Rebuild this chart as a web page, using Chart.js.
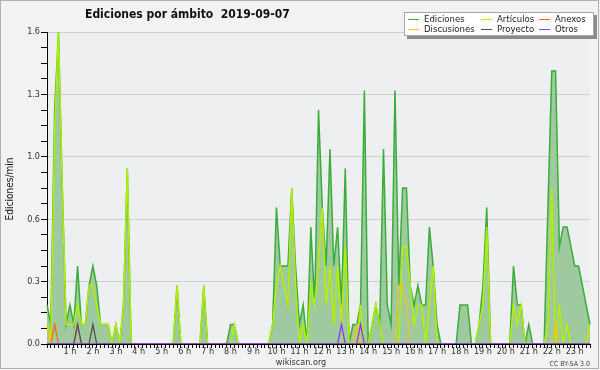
<!DOCTYPE html>
<html><head><meta charset="utf-8">
<script src="https://cdn.jsdelivr.net/npm/chart.js@4.4.0/dist/chart.umd.min.js"></script>
<style>html,body{margin:0;padding:0;background:#f2f2f2;}#wrap{width:600px;height:370px;position:relative}</style>
</head><body><div id="wrap"><canvas id="c" width="600" height="370"></canvas></div>
<script>
const chartTitle = 'Ediciones por ámbito  2019-09-07';
const yTitle = 'Ediciones/min';
const hourLabels = ['1 h','2 h','3 h','4 h','5 h','6 h','7 h','8 h','9 h','10 h','11 h','12 h','13 h','14 h','15 h','16 h','17 h','18 h','19 h','20 h','21 h','22 h','23 h'];
const yTickValues = [0, 0.32, 0.64, 0.96, 1.28, 1.6];
const yTickLabels = ['0.0','0.3','0.6','1.0','1.3','1.6'];
const seriesNames = ['Ediciones','Artículos','Anexos','Discusiones','Proyecto','Otros'];

// 10-minute buckets, 00:00 .. 23:40
const ediciones = [
 0.2,0.1,1.2,1.6,0.8,0.1,0.2,0.1,0.4,0.1,0.1,0.3,
 0.4,0.3,0.1,0.1,0.1,0,0.1,0,0.2,0.9,0,0,
 0,0,0,0,0,0,0,0,0,0,0.3,0,
 0,0,0,0,0,0.3,0,0,0,0,0,0,
 0.1,0.1,0,0,0,0,0,0,0,0,0,0.1,
 0.7,0.4,0.4,0.4,0.8,0.4,0.1,0.2,0,0.6,0.2,1.2,
 0.7,0.4,1.0,0.4,0.6,0.2,0.9,0,0.1,0.1,0.2,1.3,
 0,0.1,0.2,0.1,1.0,0.2,0.1,1.3,0.3,0.8,0.8,0.3,
 0.2,0.3,0.2,0.2,0.6,0.4,0.1,0,0,0,0,0,
 0.2,0.2,0.2,0,0,0.1,0.3,0.7,0,0,0,0,
 0,0,0.4,0.2,0.2,0,0.1,0,0,0,0,0.7,
 1.4,1.4,0.5,0.6,0.6,0.5,0.4,0.4,0.3,0.2,0.1];
const articulos = [
 0.1,0,1.1,1.6,0.8,0.1,0.1,0.1,0.2,0.1,0.1,0.3,
 0.3,0.2,0.1,0.1,0.1,0,0.1,0,0.2,0.9,0,0,
 0,0,0,0,0,0,0,0,0,0,0.3,0,
 0,0,0,0,0,0.3,0,0,0,0,0,0,
 0,0.1,0,0,0,0,0,0,0,0,0,0.1,
 0.3,0.4,0.3,0.2,0.8,0.3,0,0.1,0,0.3,0.2,0.4,
 0.7,0.2,0.4,0.1,0.4,0.1,0.5,0,0,0,0.2,0,
 0,0.1,0.2,0.1,0,0,0,0,0,0.5,0.5,0.3,
 0.1,0.2,0.2,0,0.2,0.4,0,0,0,0,0,0,
 0,0,0,0,0,0.1,0.2,0.6,0,0,0,0,
 0,0,0.2,0.1,0.2,0,0,0,0,0,0,0.1,
 0.8,0,0.2,0,0.1,0,0,0,0,0,0.1];
const anexos = [
 0,0,0.1,0,0,0,0,0,0.1,0,0,0,
 0,0,0,0,0,0,0,0,0,0,0,0,
 0,0,0,0,0,0,0,0,0,0,0,0,
 0,0,0,0,0,0,0,0,0,0,0,0,
 0,0,0,0,0,0,0,0,0,0,0,0,
 0,0,0,0,0,0,0,0,0,0,0,0,
 0,0,0,0,0,0,0,0,0,0,0,0,
 0,0,0,0,0,0,0,0,0,0,0,0,
 0,0,0,0,0,0,0,0,0,0,0,0,
 0,0,0,0,0,0,0,0,0,0,0,0,
 0,0,0,0,0,0,0,0,0,0,0,0,
 0,0,0,0,0,0,0,0,0,0,0];
const discusiones = [
 0.1,0,0,0,0,0,0,0,0,0,0,0,
 0,0,0,0,0,0,0,0,0,0,0,0,
 0,0,0,0,0,0,0,0,0,0,0,0,
 0,0,0,0,0,0,0,0,0,0,0,0,
 0,0,0,0,0,0,0,0,0,0,0,0,
 0,0,0,0,0,0,0,0,0,0,0,0,
 0,0,0,0,0,0,0,0,0,0.1,0,0,
 0,0,0,0,0,0,0,0,0.3,0.3,0.2,0,
 0,0,0,0,0,0,0,0,0,0,0,0,
 0,0,0,0,0,0,0,0,0,0,0,0,
 0,0,0,0,0,0,0,0,0,0,0,0,
 0,0.1,0,0,0,0,0,0,0,0,0];
const proyecto = [
 0,0,0,0,0,0,0,0,0.1,0,0,0,
 0.1,0,0,0,0,0,0,0,0,0,0,0,
 0,0,0,0,0,0,0,0,0,0,0,0,
 0,0,0,0,0,0,0,0,0,0,0,0,
 0,0,0,0,0,0,0,0,0,0,0,0,
 0,0,0,0,0,0,0,0,0,0,0,0,
 0,0,0,0,0,0,0,0,0,0,0,0,
 0,0,0,0,0,0,0,0,0,0,0,0,
 0,0,0,0,0,0,0,0,0,0,0,0,
 0,0,0,0,0,0,0,0,0,0,0,0,
 0,0,0,0,0,0,0,0,0,0,0,0,
 0,0,0,0,0,0,0,0,0,0,0];
const otros = [
 0,0,0,0,0,0,0,0,0,0,0,0,
 0,0,0,0,0,0,0,0,0,0,0,0,
 0,0,0,0,0,0,0,0,0,0,0,0,
 0,0,0,0,0,0,0,0,0,0,0,0,
 0,0,0,0,0,0,0,0,0,0,0,0,
 0,0,0,0,0,0,0,0,0,0,0,0,
 0,0,0,0,0,0.1,0,0,0,0,0.1,0,
 0,0,0,0,0,0,0,0,0,0,0,0,
 0,0,0,0,0,0,0,0,0,0,0,0,
 0,0,0,0,0,0,0,0,0,0,0,0,
 0,0,0,0,0,0,0,0,0,0,0,0,
 0,0,0,0,0,0,0,0,0,0,0];

const timeLabels = ediciones.map((_, i) => String(Math.floor(i/6)).padStart(2,'0') + ':' + String((i%6)*10).padStart(2,'0'));

const colors = {
  Ediciones: '#3aad3a', Artículos: '#b2ee00', Anexos: '#ff6a1a',
  Discusiones: '#f2c21c', Proyecto: '#555555', Otros: '#8a3df0'
};
const FONT = "'DejaVu Sans Condensed','DejaVu Sans',sans-serif";

const bgPlugin = {
  id: 'bg',
  beforeDraw(chart) {
    const {ctx, chartArea: a} = chart;
    ctx.save();
    ctx.fillStyle = '#f2f2f2';
    ctx.fillRect(0, 0, chart.width, chart.height);
    ctx.fillStyle = '#edeff1';
    ctx.fillRect(a.left, a.top, a.right - a.left, a.bottom - a.top);
    ctx.restore();
  },
  afterDraw(chart) {
    const ctx = chart.ctx;
    ctx.save();
    // title
    ctx.fillStyle = '#111';
    ctx.font = 'bold 12px ' + FONT;
    ctx.textBaseline = 'alphabetic';
    ctx.textAlign = 'left';
    ctx.fillText(chartTitle, 85, 18);
    // y title
    ctx.save();
    ctx.translate(13, 189);
    ctx.rotate(-Math.PI/2);
    ctx.textAlign = 'center';
    ctx.font = '10px ' + FONT;
    ctx.fillStyle = '#111';
    ctx.fillText(yTitle, 0, 0);
    ctx.restore();
    // footer
    ctx.font = '9px ' + FONT;
    ctx.fillStyle = '#333';
    ctx.textAlign = 'center';
    ctx.fillText('wikiscan.org', 301, 365);
    ctx.font = '7px ' + FONT;
    ctx.textAlign = 'right';
    ctx.fillStyle = '#444';
    ctx.fillText('CC BY-SA 3.0', 590, 366);
    // legend
    ctx.fillStyle = '#8a8a8a';
    ctx.fillRect(407, 15, 190, 24);
    ctx.fillStyle = '#ffffff';
    ctx.fillRect(404, 12, 190, 24);
    ctx.strokeStyle = '#a8a8a8';
    ctx.lineWidth = 1;
    ctx.strokeRect(404.5, 12.5, 189, 23);
    const cols = [408, 481, 539];
    const rows = [19.5, 29.5];
    const order = [['Ediciones','Artículos','Anexos'],['Discusiones','Proyecto','Otros']];
    ctx.font = '9.5px ' + FONT;
    ctx.textAlign = 'left';
    ctx.textBaseline = 'middle';
    order.forEach((row, r) => row.forEach((name, c) => {
      ctx.strokeStyle = colors[name];
      ctx.lineWidth = 1;
      ctx.beginPath();
      ctx.moveTo(cols[c], rows[r]); ctx.lineTo(cols[c] + 11, rows[r]);
      ctx.stroke();
      ctx.fillStyle = '#222';
      ctx.fillText(name, cols[c] + 16, rows[r] + 0.5);
    }));
    // outer frame
    ctx.strokeStyle = '#b0b0b0';
    ctx.strokeRect(0.5, 0.5, 598, 368);
    ctx.restore();
  }
};

function ds(label, data, order, fill) {
  return {
    label, data, order,
    borderColor: colors[label],
    borderWidth: label === 'Ediciones' || label === 'Artículos' ? 1.5 : 1.3,
    backgroundColor: fill ? '#9fca9f' : 'transparent',
    fill: fill ? 'origin' : false,
    pointRadius: 0, tension: 0
  };
}

new Chart(document.getElementById('c'), {
  type: 'line',
  data: {
    labels: timeLabels,
    datasets: [
      ds('Ediciones', ediciones, 10, true),
      ds('Artículos', articulos, 6, false),
      ds('Anexos', anexos, 5, false),
      ds('Discusiones', discusiones, 4, false),
      ds('Proyecto', proyecto, 3, false),
      ds('Otros', otros, 2, false)
    ]
  },
  options: {
    responsive: false, animation: false, devicePixelRatio: 1,
    layout: {padding: {top: 32, right: 10, left: 0, bottom: 0}},
    plugins: {legend: {display: false}, tooltip: {enabled: false}, title: {display: false}},
    scales: {
      x: {
        type: 'category', offset: false,
        grid: {display: true, drawOnChartArea: false, drawTicks: true, tickLength: 4, color: '#000', tickColor: '#000'},
        border: {display: true, color: '#000', width: 1},
        ticks: {
          autoSkip: false, maxRotation: 0, minRotation: 0, padding: -2,
          color: '#333', font: {family: FONT, size: 9},
          callback: (v, i) => (i % 6 === 0 && i > 0) ? hourLabels[i/6 - 1] : ''
        },
        afterFit: s => { s.height = 26; }
      },
      y: {
        min: 0, max: 1.6,
        afterBuildTicks: s => {
          const t = [];
          for (let k = 0; k < yTickValues.length - 1; k++) {
            const a = yTickValues[k], b = yTickValues[k+1];
            for (let j = 0; j < 4; j++) t.push({value: a + (b - a) * j / 4});
          }
          t.push({value: yTickValues[yTickValues.length - 1]});
          s.ticks = t;
        },
        grid: {
          drawTicks: true, tickLength: 6, tickColor: '#000',
          color: c => (c.index % 4 === 0) ? '#cfcfcf' : 'rgba(0,0,0,0)'
        },
        border: {display: true, color: '#000', width: 1},
        ticks: {
          padding: 1, color: '#333', font: {family: FONT, size: 9},
          callback: (v, i) => (i % 4 === 0) ? yTickLabels[i/4] : ''
        },
        afterFit: s => { s.width = 47; }
      }
    }
  },
  plugins: [bgPlugin]
});
</script></body></html>
